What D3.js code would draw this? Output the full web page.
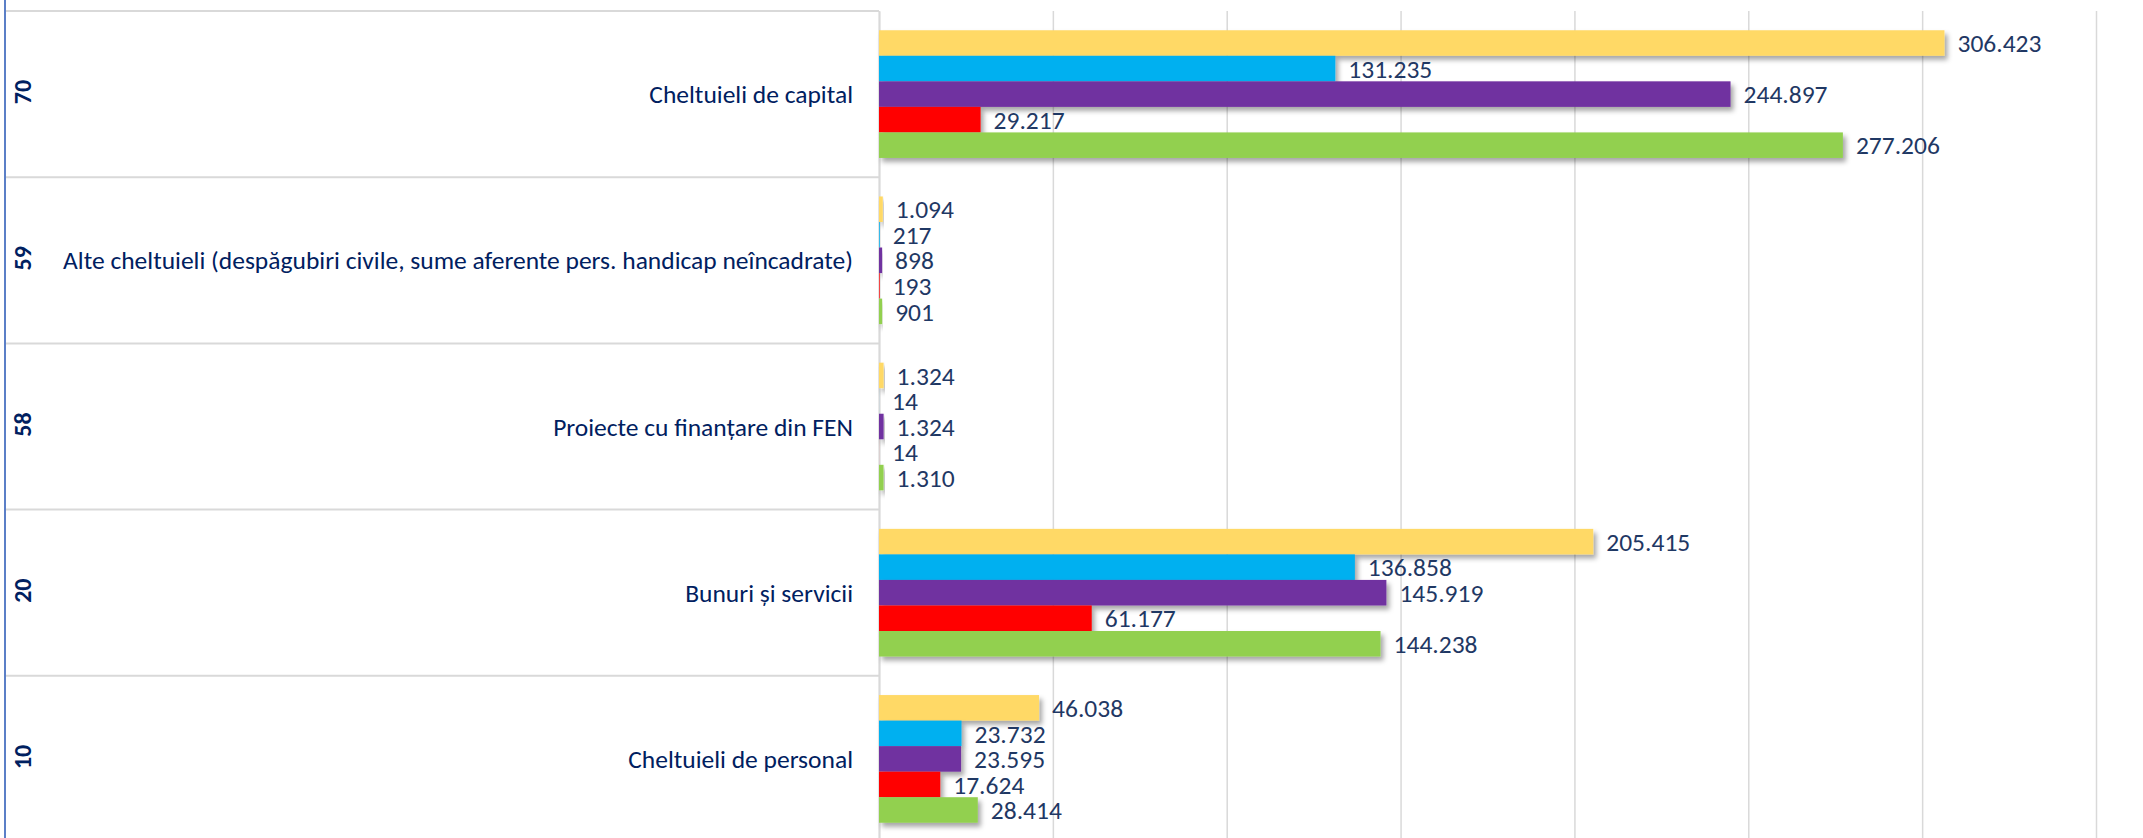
<!DOCTYPE html>
<html>
<head>
<meta charset="utf-8">
<script src="https://cdn.jsdelivr.net/npm/d3@7"></script>
<style>
  html, body { margin: 0; padding: 0; background: #ffffff; }
  svg { display: block; }
</style>
</head>
<body>
<svg id="chart" width="2143" height="838"></svg>
<script>
// ---- DATA ----
const categories = ["10", "20", "58", "59", "70"];
const categoryLabels = [
  "Cheltuieli de personal",
  "Bunuri și servicii",
  "Proiecte cu finanțare din FEN",
  "Alte cheltuieli (despăgubiri civile, sume aferente pers. handicap neîncadrate)",
  "Cheltuieli de capital"
];
const seriesNames = ["Seria 1", "Seria 2", "Seria 3", "Seria 4", "Seria 5"];
const serie1 = [46038, 205415, 1324, 1094, 306423];
const serie2 = [23732, 136858, 14, 217, 131235];
const serie3 = [23595, 145919, 1324, 898, 244897];
const serie4 = [17624, 61177, 14, 193, 29217];
const serie5 = [28414, 144238, 1310, 901, 277206];
const xTicks = [0, 50000, 100000, 150000, 200000, 250000, 300000, 350000];
const seriesColors = ["#FFD966", "#00B0F0", "#7030A0", "#FF0000", "#92D050"];

const seriesValues = [serie1, serie2, serie3, serie4, serie5];

// ---- LAYOUT ----
const W = 2143, H = 838;
const plotLeft = 879, plotRight = 2096, plotTop = 11, plotBottom = 842;
const svg = d3.select("#chart");

const defs = svg.append("defs");
const f = defs.append("filter").attr("id", "shadow")
  .attr("x", "-10%").attr("y", "-30%").attr("width", "130%").attr("height", "180%");
f.append("feDropShadow").attr("dx", 3).attr("dy", 4).attr("stdDeviation", 2.5)
  .attr("flood-color", "#000").attr("flood-opacity", 0.35);

const x = d3.scaleLinear().domain([0, 350000]).range([plotLeft, plotRight]);
const y = d3.scaleBand().domain(categories).range([plotBottom, plotTop]).paddingInner(0).paddingOuter(0);
const ys = d3.scaleBand().domain(seriesNames).range([0, y.bandwidth()]).paddingInner(0).paddingOuter(0.754);

const fmt = d3.formatLocale({ decimal: ",", thousands: ".", grouping: [3], currency: ["", " lei"] }).format(",d");

const FONT = "Carlito, Calibri, Lato, 'Open Sans', sans-serif";

// Gridlines via axis
const gx = svg.append("g")
  .attr("transform", `translate(0,${plotTop})`)
  .call(d3.axisBottom(x).tickValues(xTicks).tickSize(plotBottom - plotTop).tickFormat(""));
gx.select(".domain").remove();
gx.selectAll(".tick line").attr("stroke", "#d9d9d9").attr("stroke-width", 1.5);

// Category separators (row boundaries)
const boundaries = categories.map(c => y(c)).concat([plotBottom]);
svg.append("g").selectAll("line").data(boundaries).join("line")
  .attr("x1", 6).attr("x2", plotLeft)
  .attr("y1", d => d).attr("y2", d => d)
  .attr("stroke", "#d9d9d9").attr("stroke-width", 2);

// Vertical category axis line
const gy = svg.append("g").attr("transform", `translate(${plotLeft},0)`)
  .call(d3.axisLeft(y).tickSize(0).tickFormat(""));
gy.select(".domain").attr("stroke", "#d9d9d9").attr("stroke-width", 2);

// Left border line
svg.append("line").attr("x1", 5).attr("x2", 5).attr("y1", 0).attr("y2", H)
  .attr("stroke", "#5b7fc7").attr("stroke-width", 2);

// Bars
const barsG = svg.append("g");
categories.forEach((cat, ci) => {
  seriesNames.forEach((s, si) => {
    const v = seriesValues[si][ci];
    barsG.append("rect")
      .attr("x", x(0))
      .attr("y", y(cat) + ys(s))
      .attr("width", Math.max(0, x(v) - x(0)))
      .attr("height", ys.bandwidth())
      .attr("fill", seriesColors[si])
      .attr("filter", "url(#shadow)");
  });
});

// Data labels
const labG = svg.append("g");
categories.forEach((cat, ci) => {
  seriesNames.forEach((s, si) => {
    const v = seriesValues[si][ci];
    labG.append("text")
      .attr("x", x(v) + 13)
      .attr("y", y(cat) + ys(s) + ys.bandwidth() / 2)
      .attr("dy", "0.36em")
      .attr("font-family", FONT)
      .attr("font-size", 25.5)
      .attr("fill", "#1f3864")
      .text(fmt(v));
  });
});

// Category labels (inner level)
svg.append("g").selectAll("text").data(categories).join("text")
  .attr("x", plotLeft - 26)
  .attr("y", d => y(d) + y.bandwidth() / 2)
  .attr("dy", "0.36em")
  .attr("text-anchor", "end")
  .attr("font-family", FONT)
  .attr("font-size", 25.5)
  .attr("fill", "#002060")
  .text((d, i) => categoryLabels[i]);

// Outer level codes, rotated
svg.append("g").selectAll("text").data(categories).join("text")
  .attr("transform", d => `translate(22,${y(d) + y.bandwidth() / 2 - 2}) rotate(-90)`)
  .attr("dy", "0.36em")
  .attr("text-anchor", "middle")
  .attr("font-family", FONT)
  .attr("font-weight", 600)
  .attr("font-size", 24)
  .attr("fill", "#002060")
  .text(d => d);
</script>
</body>
</html>
